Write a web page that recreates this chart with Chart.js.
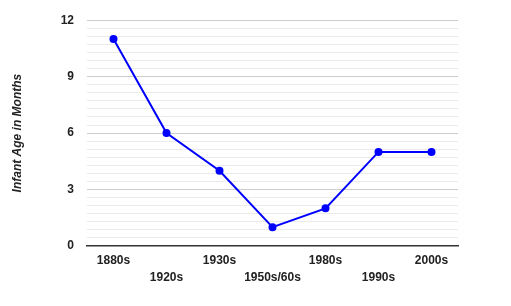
<!DOCTYPE html>
<html lang="en">
<head>
    <meta charset="UTF-8">
    <title>Infant Age in Months</title>
    <script src="https://cdn.jsdelivr.net/npm/chart.js"></script>
    <style>
        body {
            margin: 0;
            background-color: #ffffff;
        }
        #chartContainer {
            width: 511px;
            height: 306px;
        }
    </style>
</head>
<body>
    <div id="chartContainer">
        <canvas id="ageChart"></canvas>
    </div>

    <script>
        // Data
        const decades = ['1880s', '1920s', '1930s', '1950s/60s', '1980s', '1990s', '2000s'];
        const infantAge = [11, 6, 4, 1, 2, 5, 5];
        const majorTicks = [0, 3, 6, 9, 12];
        const minorPerMajor = 7;

        const ctx = document.getElementById('ageChart').getContext('2d');
        new Chart(ctx, {
            type: 'line',
            data: {
                labels: decades,
                datasets: [{
                    data: infantAge,
                    borderColor: '#0000ff',
                    backgroundColor: '#0000ff',
                    borderWidth: 2,
                    pointRadius: 3,
                    pointHoverRadius: 3,
                    tension: 0,
                    fill: false
                }]
            },
            options: {
                responsive: true,
                maintainAspectRatio: false,
                animation: false,
                layout: { padding: { top: 12, right: 53, left: 0, bottom: 0 } },
                plugins: {
                    legend: { display: false },
                    tooltip: { enabled: false }
                },
                scales: {
                    x: {
                        offset: true,
                        grid: { display: false, drawTicks: false },
                        border: { color: '#333333', width: 1.5 },
                        ticks: {
                            autoSkip: false,
                            maxRotation: 0,
                            padding: 7,
                            color: '#222222',
                            font: { family: 'Arial, Liberation Sans', size: 12, weight: 'bold', lineHeight: 1.35 },
                            callback: function (value, index) {
                                const lbl = decades[index];
                                return index % 2 === 0 ? [lbl, ''] : ['', lbl];
                            }
                        },
                        afterFit: function (scale) { scale.height = 60; }
                    },
                    y: {
                        min: 0,
                        max: 12,
                        border: { display: false },
                        afterBuildTicks: function (scale) {
                            const step = 3 / minorPerMajor;
                            const ticks = [];
                            const n = (majorTicks.length - 1) * minorPerMajor;
                            for (let i = 0; i <= n; i++) {
                                ticks.push({ value: i * step, major: i % minorPerMajor === 0 });
                            }
                            scale.ticks = ticks;
                        },
                        grid: {
                            drawTicks: false,
                            color: function (c) {
                                if (c.tick && c.index === 0) return 'rgba(0,0,0,0)';
                                return c.index % minorPerMajor === 0 ? '#cccccc' : '#ebebeb';
                            }
                        },
                        ticks: {
                            autoSkip: false,
                            padding: 13,
                            color: '#222222',
                            font: { family: 'Arial, Liberation Sans', size: 12, weight: 'bold' },
                            callback: function (value, index) {
                                return index % minorPerMajor === 0 ? majorTicks[index / minorPerMajor] : '';
                            }
                        },
                        title: {
                            display: true,
                            text: 'Infant Age in Months',
                            color: '#222222',
                            padding: { top: 10, bottom: 0 },
                            font: { family: 'Arial, Liberation Sans', size: 12, weight: 'bold', style: 'italic' }
                        },
                        afterFit: function (scale) { scale.width = 87; }
                    }
                }
            }
        });
    </script>
</body>
</html>
